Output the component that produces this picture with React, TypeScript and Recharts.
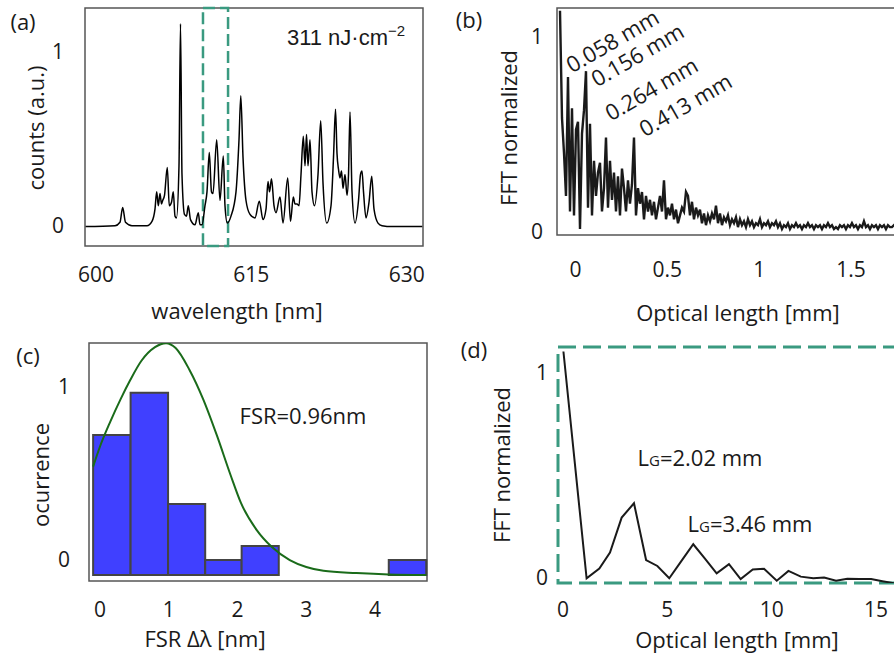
import React from 'react';
import { LineChart, Line, XAxis, YAxis, ReferenceArea } from 'recharts';

const FONT = '"Open Sans", sans-serif';
const INK = '#1a1a1a';
const FRAME = '#555555';
const TEAL = '#3a9a80';

// (a) emission spectrum at 311 nJ/cm2
const specWl = [
  599.0, 601.834, 602.317, 602.578, 602.848, 603.476, 604.924, 605.407, 605.696, 605.861,
  606.015, 606.179, 606.324, 606.44, 606.614, 606.884, 607.077, 607.29, 607.463, 607.628,
  607.772, 608.014, 608.159, 608.303, 608.545, 608.738, 608.912, 609.124, 609.559, 609.877,
  610.041, 610.234, 610.524, 610.717, 610.939, 611.151, 611.296, 611.654, 611.972, 612.291,
  612.455, 612.677, 613.034, 613.517, 613.807, 613.981, 614.193, 614.483, 614.869, 615.352,
  615.767, 616.124, 616.414, 616.607, 616.752, 616.945, 617.186, 617.379, 617.765, 618.055,
  618.509, 618.779, 619.049, 619.214, 619.407, 619.6, 619.793, 620.015, 620.179, 620.324,
  620.469, 620.662, 620.855, 621.096, 621.434, 621.695, 621.917, 622.274, 622.689, 622.931,
  623.124, 623.269, 623.413, 623.558, 623.703, 623.848, 624.041, 624.234, 624.379, 624.524,
  624.717, 625.006, 625.344, 625.537, 625.682, 625.827, 626.068, 626.358, 626.619, 626.841,
  627.227, 627.614, 628.579, 631.5,
];
const specVal = [
  0, 0.005, 0.025, 0.11, 0.025, 0.005, 0.005, 0.03, 0.1, 0.2,
  0.12, 0.19, 0.13, 0.15, 0.18, 0.34, 0.12, 0.14, 0.2, 0.06,
  0.05, 0.35, 1.168, 0.3, 0.07, 0.06, 0.12, 0.04, 0.01, 0.08,
  0.01, 0.01, 0.12, 0.2, 0.426, 0.2, 0.19, 0.5, 0.15, 0.406,
  0.12, 0.02, 0.06, 0.2, 0.5, 0.753, 0.4, 0.15, 0.07, 0.05,
  0.146, 0.04, 0.1, 0.26, 0.2, 0.275, 0.12, 0.08, 0.17, 0.02,
  0.28, 0.03, 0.17, 0.13, 0.13, 0.12, 0.3, 0.52, 0.35, 0.53,
  0.35, 0.5, 0.2, 0.12, 0.3, 0.61, 0.25, 0.02, 0.12, 0.4,
  0.676, 0.42, 0.33, 0.28, 0.32, 0.22, 0.3, 0.18, 0.3, 0.66,
  0.2, 0.02, 0.15, 0.3, 0.32, 0.2, 0.05, 0.14, 0.29, 0.1,
  0.02, 0.005, 0, 0,
];
const specTicks = [600, 615, 630];
const specBox = [610.33, 612.75];

// (b) FFT of the whole spectrum, sampled on a regular optical-length grid
const fftBStart = -0.0838;
const fftBStep = 0.01088;
const fftBVal = [
  1.13, 0.58, 0.4, 0.18, 0.79, 0.1, 0.63, 0.08, 0.52, 0.56,
  0.01, 0.5, 0.62, 0.82, 0.12, 0.55, 0.08, 0.36, 0.18, 0.3,
  0.35, 0.1, 0.22, 0.48, 0.12, 0.36, 0.16, 0.3, 0.1, 0.28,
  0.08, 0.32, 0.22, 0.1, 0.26, 0.14, 0.24, 0.48, 0.08, 0.22,
  0.14, 0.2, 0.06, 0.18, 0.1, 0.16, 0.08, 0.15, 0.06, 0.12,
  0.18, 0.1, 0.26, 0.06, 0.12, 0.08, 0.14, 0.06, 0.11, 0.04,
  0.08, 0.12, 0.1, 0.2, 0.18, 0.08, 0.15, 0.06, 0.12, 0.08,
  0.11, 0.04, 0.09, 0.03, 0.08, 0.05, 0.09, 0.06, 0.13, 0.04,
  0.09, 0.03, 0.07, 0.05, 0.08, 0.03, 0.06, 0.04, 0.07, 0.02,
  0.06, 0.03, 0.05, 0.02, 0.06, 0.03, 0.05, 0.02, 0.04, 0.03,
  0.06, 0.02, 0.04, 0.03, 0.05, 0.02, 0.04, 0.03, 0.05, 0.02,
  0.04, 0.01, 0.03, 0.02, 0.04, 0.01, 0.03, 0.02, 0.04, 0.02,
  0.03, 0.01, 0.03, 0.02, 0.04, 0.02, 0.03, 0.01, 0.03, 0.02,
  0.03, 0.01, 0.03, 0.02, 0.04, 0.02, 0.03, 0.01, 0.02, 0.01,
  0.03, 0.02, 0.03, 0.01, 0.03, 0.02, 0.04, 0.02, 0.03, 0.01,
  0.03, 0.02, 0.05, 0.02, 0.03, 0.01, 0.03, 0.02, 0.03, 0.01,
  0.03, 0.02, 0.03, 0.01, 0.03, 0.02, 0.02, 0.03, 0.02,
];
const fftBTicks = [0, 0.5, 1, 1.5];
const peakLabels = ['0.058 mm', '0.156 mm', '0.264 mm', '0.413 mm'];

// (c) FSR histogram + gaussian fit
const histLo = [-0.1, 0.445, 0.99, 1.53, 2.06, 4.2];
const histHi = [0.445, 0.99, 1.53, 2.06, 2.6, 4.745];
const histVal = [0.723, 0.967, 0.324, 0.0, 0.081, 0.0];
const histBase = -0.087;
const gaussX = [-0.1, 0.0, 0.15, 0.3, 0.44, 0.6, 0.8, 0.96, 1.1, 1.3, 1.5, 1.7, 1.9, 2.05, 2.28, 2.5, 2.76, 3.0, 3.25, 3.73, 4.2, 4.745];
const gaussVal = [0.54, 0.656, 0.8, 0.93, 1.04, 1.15, 1.23, 1.253, 1.225, 1.1, 0.93, 0.72, 0.49, 0.33, 0.173, 0.075, 0.0, -0.04, -0.062, -0.075, -0.083, -0.086];
const fsrTicks = [0, 1, 2, 3, 4];

// (d) FFT of the dashed window
const fftDX = [0.02, 1.13, 1.74, 2.25, 2.81, 3.4, 3.98, 4.52, 5.09, 5.65, 6.24, 6.8, 7.36, 7.95, 8.51, 9.09, 9.63, 10.24, 10.8, 11.39, 11.99, 12.51, 13.08, 13.62, 14.2, 14.76, 15.3, 15.85];
const fftDVal = [1.1, -0.006, 0.042, 0.12, 0.29, 0.36, 0.083, 0.054, -0.006, 0.075, 0.16, 0.09, 0.018, 0.063, -0.01, 0.037, 0.04, -0.018, 0.03, 0.002, -0.006, -0.002, -0.018, -0.008, -0.01, -0.01, -0.02, -0.03];
const fftDTicks = [0, 5, 10, 15];

const specData = specWl.map((x, i) => ({ x, y: specVal[i] }));
const fftBData = fftBVal.map((y, i) => ({ x: fftBStart + i * fftBStep, y }));
const gaussData = gaussX.map((x, i) => ({ x, y: gaussVal[i] }));
const fftDData = fftDX.map((x, i) => ({ x, y: fftDVal[i] }));

const xTick = (dy: number) => (p: any) => (
  <text x={p.x} y={p.y + dy} textAnchor="middle" dominantBaseline="central" fontSize={21} fill={INK} fontFamily={FONT}>
    {p.payload.value}
  </text>
);
const yTick = (dx: number, dy: number) => (p: any) => (
  <text x={p.x - dx} y={p.y + dy} textAnchor="end" dominantBaseline="central" fontSize={21} fill={INK} fontFamily={FONT}>
    {p.payload.value}
  </text>
);

const Txt: React.FC<{ x: number; y: number; rot?: number; size?: number; family?: string; children: React.ReactNode }> = ({
  x, y, rot = 0, size = 22, family = FONT, children,
}) => (
  <div
    style={{
      position: 'absolute', left: x, top: y, transform: `translate(-50%, -50%) rotate(${rot}deg)`,
      fontSize: size, fontFamily: family, color: INK, whiteSpace: 'nowrap', lineHeight: 1,
    }}
  >
    {children}
  </div>
);

const App: React.FC = () => {
  const aX: [number, number] = [598.94, 631.57];
  const aY: [number, number] = [-0.112, 1.259];
  const bX: [number, number] = [-0.1001, 1.7497];
  const bY: [number, number] = [-0.0205, 1.144];
  const cX: [number, number] = [-0.16, 4.756];
  const cY: [number, number] = [-0.121, 1.254];
  const dX: [number, number] = [-0.24, 16.0];
  const dY: [number, number] = [-0.029, 1.122];

  return (
    <div style={{ position: 'absolute', left: 0, top: 0, width: 894, height: 659, overflow: 'hidden', background: '#fff', fontFamily: FONT }}>
      {/* (a) */}
      <div style={{ position: 'absolute', left: 0, top: 0 }}>
        <LineChart width={440} height={320} data={specData} margin={{ top: 8, right: 17, bottom: 34, left: 0 }}>
          <XAxis dataKey="x" type="number" domain={aX} ticks={specTicks} allowDataOverflow height={40}
            axisLine={false} tickLine={false} tickSize={0} tick={xTick(26)} />
          <YAxis type="number" domain={aY} ticks={[0, 1]} allowDataOverflow width={85}
            axisLine={false} tickLine={false} tickSize={0} tick={yTick(19, -2)} />
          <ReferenceArea x1={aX[0]} x2={aX[1]} y1={aY[0]} y2={aY[1]} fill="none" stroke={FRAME} strokeWidth={1.5} ifOverflow="visible" />
          <ReferenceArea x1={specBox[0]} x2={specBox[1]} y1={aY[0]} y2={aY[1]} fill="none" stroke={TEAL}
            strokeWidth={2.5} strokeDasharray="12 5" ifOverflow="visible" />
          <Line type="monotone" dataKey="y" stroke="#000" strokeWidth={1.5} dot={false} isAnimationActive={false} />
        </LineChart>
      </div>

      {/* (b) */}
      <div style={{ position: 'absolute', left: 480, top: 0 }}>
        <LineChart width={420} height={320} data={fftBData} margin={{ top: 8, right: 3, bottom: 45, left: 0 }}>
          <XAxis dataKey="x" type="number" domain={bX} ticks={fftBTicks} allowDataOverflow height={40}
            axisLine={false} tickLine={false} tickSize={0} tick={xTick(32)} />
          <YAxis type="number" domain={bY} ticks={[0, 1]} allowDataOverflow width={77}
            axisLine={false} tickLine={false} tickSize={0} tick={yTick(12, 0)} />
          <ReferenceArea x1={bX[0]} x2={bX[1]} y1={bY[0]} y2={bY[1]} fill="none" stroke={FRAME} strokeWidth={1.5} ifOverflow="visible" />
          <Line type="linear" dataKey="y" stroke={INK} strokeWidth={2.4} dot={false} isAnimationActive={false} />
        </LineChart>
      </div>

      {/* (c) */}
      <div style={{ position: 'absolute', left: 0, top: 330 }}>
        <LineChart width={440} height={320} data={gaussData} margin={{ top: 13, right: 13, bottom: 29, left: 0 }}>
          <XAxis dataKey="x" type="number" domain={cX} ticks={fsrTicks} allowDataOverflow height={40}
            axisLine={false} tickLine={false} tickSize={0} tick={xTick(26)} />
          <YAxis type="number" domain={cY} ticks={[0, 1]} allowDataOverflow width={89}
            axisLine={false} tickLine={false} tickSize={0} tick={yTick(17, -1)} />
          <ReferenceArea x1={cX[0]} x2={cX[1]} y1={cY[0]} y2={cY[1]} fill="none" stroke={FRAME} strokeWidth={1.5} ifOverflow="visible" />
          {histVal.map((v, i) => (
            <ReferenceArea key={i} x1={histLo[i]} x2={histHi[i]} y1={histBase} y2={v} fill="#4040ff" fillOpacity={1}
              stroke="#444" strokeWidth={2} ifOverflow="visible" />
          ))}
          <Line type="monotone" dataKey="y" stroke="#1a6b1a" strokeWidth={2} dot={false} isAnimationActive={false} />
        </LineChart>
      </div>

      {/* (d) */}
      <div style={{ position: 'absolute', left: 480, top: 330 }}>
        <LineChart width={420} height={320} data={fftDData} margin={{ top: 17, right: 3, bottom: 27, left: 0 }}>
          <XAxis dataKey="x" type="number" domain={dX} ticks={fftDTicks} allowDataOverflow height={40}
            axisLine={false} tickLine={false} tickSize={0} tick={xTick(24)} />
          <YAxis type="number" domain={dY} ticks={[0, 1]} allowDataOverflow width={78}
            axisLine={false} tickLine={false} tickSize={0} tick={yTick(8, 0)} />
          <ReferenceArea x1={dX[0]} x2={dX[1]} y1={dY[0]} y2={dY[1]} fill="none" stroke={TEAL}
            strokeWidth={3} strokeDasharray="18 7" ifOverflow="visible" />
          <Line type="linear" dataKey="y" stroke={INK} strokeWidth={2} dot={false} isAnimationActive={false} />
        </LineChart>
      </div>

      {/* panel letters and axis titles */}
      <Txt x={23} y={21}>(a)</Txt>
      <Txt x={469} y={19}>(b)</Txt>
      <Txt x={28} y={355}>(c)</Txt>
      <Txt x={474} y={349}>(d)</Txt>

      <Txt x={35} y={128} rot={-90}>counts (a.u.)</Txt>
      <Txt x={237} y={310}>wavelength [nm]</Txt>
      <Txt x={508} y={128} rot={-90}>FFT normalized</Txt>
      <Txt x={738} y={312}>Optical length [mm]</Txt>
      <Txt x={40} y={475} rot={-90}>ocurrence</Txt>
      <Txt x={205} y={638}>FSR Δλ [nm]</Txt>
      <Txt x={501} y={465} rot={-90}>FFT normalized</Txt>
      <Txt x={737} y={639}>Optical length [mm]</Txt>

      <Txt x={346} y={38} family='"Liberation Sans", sans-serif'>
        311 nJ·cm<span style={{ fontSize: 15, position: 'relative', top: -9 }}>−2</span>
      </Txt>

      <Txt x={612} y={40} rot={-30}>{peakLabels[0]}</Txt>
      <Txt x={637} y={54} rot={-30}>{peakLabels[1]}</Txt>
      <Txt x={651} y={88} rot={-30}>{peakLabels[2]}</Txt>
      <Txt x={685} y={104} rot={-30}>{peakLabels[3]}</Txt>

      <Txt x={303} y={415}>FSR=0.96nm</Txt>
      <Txt x={700} y={457}>L<span style={{ fontSize: 15 }}>G</span>=2.02 mm</Txt>
      <Txt x={750} y={523}>L<span style={{ fontSize: 15 }}>G</span>=3.46 mm</Txt>
    </div>
  );
};

export default App;
